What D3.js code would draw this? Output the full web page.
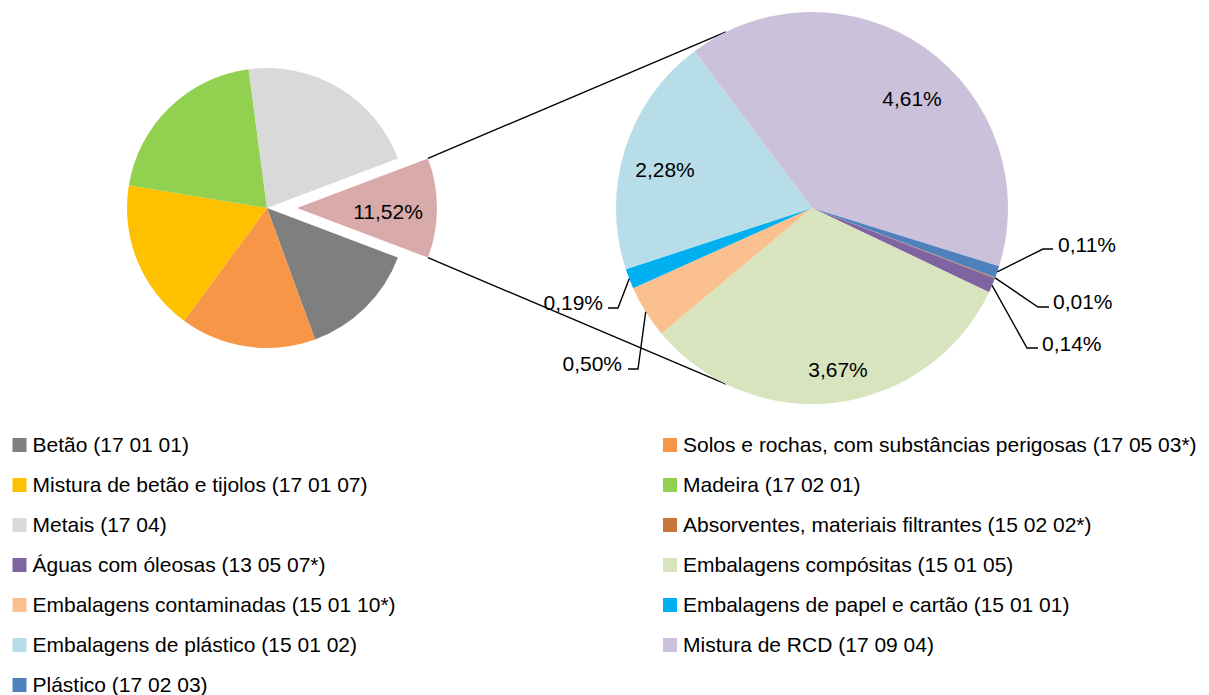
<!DOCTYPE html>
<html><head><meta charset="utf-8">
<script src="https://cdn.jsdelivr.net/npm/d3@7"></script>
<style>
body{margin:0;background:#fff;}
text{font-family:"Liberation Sans",Arial,sans-serif;font-size:21px;fill:#000;}
</style>
</head><body>
<svg id="chart" width="1209" height="695"></svg>
<script>
// ---------- DATA ----------
const mainCategories = [
  "Betão (17 01 01)",
  "Solos e rochas, com substâncias perigosas (17 05 03*)",
  "Mistura de betão e tijolos (17 01 07)",
  "Madeira (17 02 01)",
  "Metais (17 04)"
];
const mainValues = [13.67, 15.67, 17.50, 20.30, 21.34];
const mainColors = ["#7f7f7f", "#f79646", "#ffc000", "#92d050", "#d9d9d9"];

const otherValue = 11.52;
const otherColor = "#d9aaaa";

const subCategories = [
  "Absorventes, materiais filtrantes (15 02 02*)",
  "Águas com óleosas (13 05 07*)",
  "Embalagens compósitas (15 01 05)",
  "Embalagens contaminadas (15 01 10*)",
  "Embalagens de papel e cartão (15 01 01)",
  "Embalagens de plástico (15 01 02)",
  "Mistura de RCD (17 09 04)",
  "Plástico (17 02 03)"
];
const subValues = [0.01, 0.14, 3.67, 0.50, 0.19, 2.28, 4.61, 0.11];
const subColors = ["#c8773a", "#8064a2", "#d7e4bd", "#fac090", "#00b0f0", "#b7dde8", "#ccc1da", "#4f81bd"];

// ---------- LAYOUT ----------
const svg = d3.select("#chart");
const L = {cx: 267, cy: 208, r: 140, explode: 30};
const R = {cx: 812, cy: 208, r: 196};
const TAU = Math.PI * 2;
const deg = Math.PI / 180;

const pt = (cx, cy, r, a) => [cx + r * Math.sin(a), cy - r * Math.cos(a)];
const locale = d3.formatLocale({decimal: ",", thousands: ".", grouping: [3], currency: ["", "€"]});
const fmt = v => locale.format(".2f")(v) + "%";

const total = d3.sum(mainValues) + otherValue;
const otherAngle = otherValue / total * TAU;
const start = Math.PI / 2 + otherAngle / 2;

const mainPie = d3.pie().sort(null).value(d => d).startAngle(start).endAngle(start + TAU);
const mainArcs = mainPie([...mainValues, otherValue]);
const subPie = d3.pie().sort(null).value(d => d).startAngle(start).endAngle(start + TAU);
const subArcs = subPie(subValues);

const arcL = d3.arc().innerRadius(0).outerRadius(L.r);
const arcR = d3.arc().innerRadius(0).outerRadius(R.r);

// exploded "other" slice
const other = mainArcs[mainArcs.length - 1];
const otherMid = (other.startAngle + other.endAngle) / 2;
const apex = pt(L.cx, L.cy, L.explode, otherMid);

// connector lines
const c1 = pt(apex[0], apex[1], L.r, other.startAngle);
const c2 = pt(apex[0], apex[1], L.r, other.endAngle);
const t1 = pt(R.cx, R.cy, R.r, -26 * deg);
const t2 = pt(R.cx, R.cy, R.r, 206 * deg);
svg.append("g").selectAll("line").data([[c1, t1], [c2, t2]]).join("line")
  .attr("x1", d => d[0][0]).attr("y1", d => d[0][1])
  .attr("x2", d => d[1][0]).attr("y2", d => d[1][1])
  .attr("stroke", "#000").attr("stroke-width", 1.4);

// left pie
const gL = svg.append("g").attr("transform", `translate(${L.cx},${L.cy})`);
gL.selectAll("path").data(mainArcs.slice(0, -1)).join("path")
  .attr("d", arcL).attr("fill", (d, i) => mainColors[i]);
const gO = svg.append("g").attr("transform", `translate(${apex[0]},${apex[1]})`);
gO.append("path").attr("d", arcL(other)).attr("fill", otherColor);
gO.append("text").attr("x", 91).attr("y", 10.5).attr("text-anchor", "middle").text(fmt(otherValue));

// right pie
const gR = svg.append("g").attr("transform", `translate(${R.cx},${R.cy})`);
gR.selectAll("path").data(subArcs).join("path")
  .attr("d", arcR).attr("fill", (d, i) => subColors[i]);

// inside labels (offsets relative to pie centre)
const insideLabels = [
  {i: 2, x: 26, y: 168.5},
  {i: 5, x: -147, y: -31.5},
  {i: 6, x: 100, y: -102.5}
];
gR.selectAll("text.in").data(insideLabels).join("text").attr("class", "in")
  .attr("x", d => d.x).attr("y", d => d.y).attr("text-anchor", "middle")
  .text(d => fmt(subValues[d.i]));

// outside labels with leader lines
const outsideLabels = [
  {i: 7, elbow: [231, 41], end: [241, 41], tx: 246, ty: 43.5, anchor: "start"},
  {i: 0, elbow: [226, 99], end: [237, 99], tx: 241, ty: 100.5, anchor: "start"},
  {i: 1, elbow: [215, 140], end: [226, 140], tx: 230, ty: 142.5, anchor: "start"},
  {i: 4, elbow: [-194, 100], end: [-204, 100], tx: -209, ty: 101.5, anchor: "end"},
  {i: 3, elbow: [-174, 161], end: [-184, 161], tx: -190, ty: 162.5, anchor: "end"}
];
gR.selectAll("polyline").data(outsideLabels).join("polyline")
  .attr("points", d => {
    const a = subArcs[d.i];
    const e = pt(0, 0, R.r, (a.startAngle + a.endAngle) / 2);
    return [e, d.elbow, d.end].map(p => p.join(",")).join(" ");
  })
  .attr("fill", "none").attr("stroke", "#000").attr("stroke-width", 1.4);
gR.selectAll("text.out").data(outsideLabels).join("text").attr("class", "out")
  .attr("x", d => d.tx).attr("y", d => d.ty).attr("text-anchor", d => d.anchor)
  .text(d => fmt(subValues[d.i]));

// legend
const legendItems = [
  ...mainCategories.map((c, i) => ({c, col: mainColors[i]})),
  ...subCategories.map((c, i) => ({c, col: subColors[i]}))
];
const lg = svg.append("g").selectAll("g").data(legendItems).join("g")
  .attr("transform", (d, i) => `translate(${i % 2 ? 663 : 12.5},${452 + Math.floor(i / 2) * 40})`);
lg.append("rect").attr("x", 0).attr("y", -14).attr("width", 14).attr("height", 14).attr("fill", d => d.col);
lg.append("text").attr("x", 20).attr("y", 0).text(d => d.c);
</script>
</body></html>
